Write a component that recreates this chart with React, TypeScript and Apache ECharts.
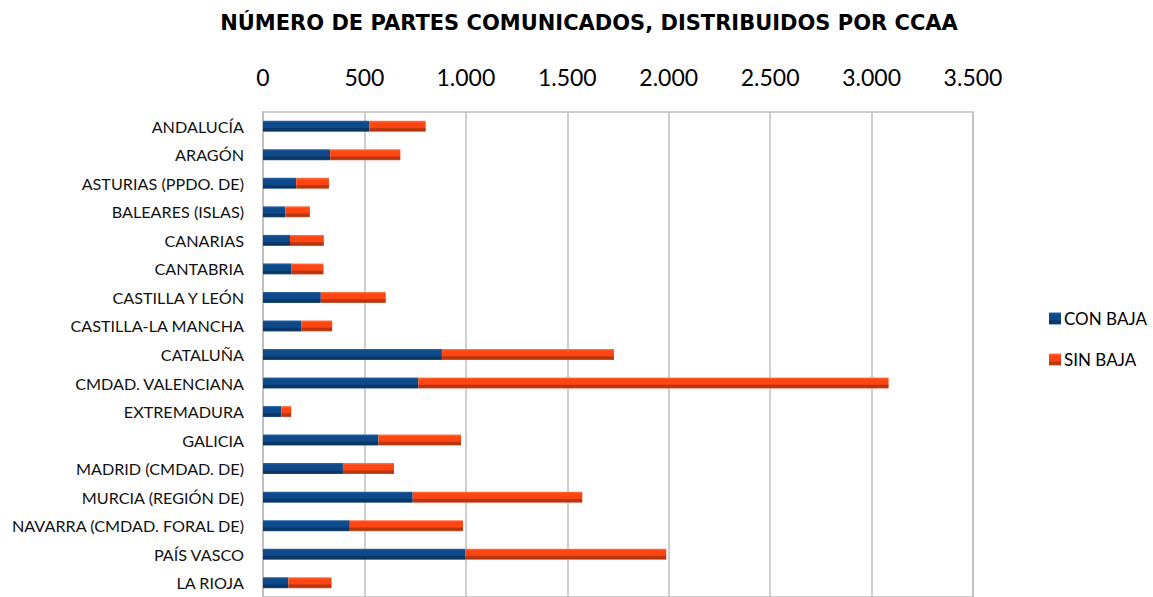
import React, { useEffect, useRef } from "react";
import * as echarts from "echarts";

const categories = [
  "ANDALUCÍA",
  "ARAGÓN",
  "ASTURIAS (PPDO. DE)",
  "BALEARES (ISLAS)",
  "CANARIAS",
  "CANTABRIA",
  "CASTILLA Y LEÓN",
  "CASTILLA-LA MANCHA",
  "CATALUÑA",
  "CMDAD. VALENCIANA",
  "EXTREMADURA",
  "GALICIA",
  "MADRID (CMDAD. DE)",
  "MURCIA (REGIÓN DE)",
  "NAVARRA (CMDAD. FORAL DE)",
  "PAÍS VASCO",
  "LA RIOJA",
];
const conBaja = [525, 331, 164, 110, 133, 141, 285, 190, 882, 766, 90, 569, 394, 738, 428, 997, 125];
const sinBaja = [277, 346, 161, 121, 167, 157, 320, 151, 848, 2318, 49, 407, 252, 836, 558, 991, 213];
const xTicks = [0, 500, 1000, 1500, 2000, 2500, 3000, 3500];

const FONT = "Lato";

function grad(top: string, mid: string, dark: string, bottom: string) {
  return new echarts.graphic.LinearGradient(0, 0, 0, 1, [
    { offset: 0, color: top },
    { offset: 0.18, color: mid },
    { offset: 0.6, color: mid },
    { offset: 0.72, color: dark },
    { offset: 0.9, color: dark },
    { offset: 1, color: bottom },
  ]);
}

export default function App() {
  const ref = useRef<HTMLDivElement>(null);
  useEffect(() => {
    if (!ref.current) return;
    const chart = echarts.init(ref.current, undefined, { renderer: "svg" });
    const fmt = (v: number) => String(v).replace(/\B(?=(\d{3})+(?!\d))/g, ".");
    chart.setOption({
      animation: false,
      backgroundColor: "#ffffff",
      title: {
        text: "NÚMERO DE PARTES COMUNICADOS, DISTRIBUIDOS POR CCAA",
        left: 584,
        textAlign: "center",
        top: 7,
        textStyle: { fontFamily: "DejaVu Sans", fontWeight: "bold", fontSize: 21, color: "#000" },
      },
      legend: {
        orient: "vertical",
        left: 1044,
        top: 305,
        itemWidth: 12,
        itemHeight: 12,
        itemGap: 24,
        icon: "rect",
        textStyle: { fontFamily: FONT, fontSize: 17, color: "#000", padding: [0, 0, 0, -2] },
        data: ["CON BAJA", "SIN BAJA"],
      },
      grid: {
        left: 263,
        right: 180,
        top: 112,
        height: 492,
        show: true,
        borderColor: "#bfbfbf",
        borderWidth: 1.5,
        containLabel: false,
      },
      xAxis: {
        type: "value",
        position: "top",
        min: xTicks[0],
        max: xTicks[xTicks.length - 1],
        interval: 500,
        axisLine: { show: false },
        axisTick: { show: false },
        splitLine: { show: true, lineStyle: { color: "#bfbfbf", width: 1.5 } },
        axisLabel: {
          fontFamily: FONT,
          fontSize: 23,
          color: "#000",
          margin: 24,
          formatter: (v: number) => fmt(v),
        },
      },
      yAxis: {
        type: "category",
        inverse: true,
        data: categories,
        axisLine: { show: true, lineStyle: { color: "#bfbfbf", width: 1.5 } },
        axisTick: { show: false },
        axisLabel: { fontFamily: FONT, fontSize: 16.2, color: "#111", margin: 19 },
      },
      series: [
        {
          name: "CON BAJA",
          type: "bar",
          stack: "total",
          barWidth: 11,
          data: conBaja,
          itemStyle: { color: grad("#2b66aa", "#0e4a8a", "#0a3666", "#2a5a90") },
        },
        {
          name: "SIN BAJA",
          type: "bar",
          stack: "total",
          barWidth: 11,
          data: sinBaja,
          itemStyle: { color: grad("#ff7a4a", "#ff4512", "#b8360f", "#e06040") },
        },
      ],
    });
    return () => chart.dispose();
  }, []);
  return (
    <div
      ref={ref}
      style={{ position: "fixed", left: 0, top: 0, width: 1153, height: 597, background: "#fff" }}
    />
  );
}
